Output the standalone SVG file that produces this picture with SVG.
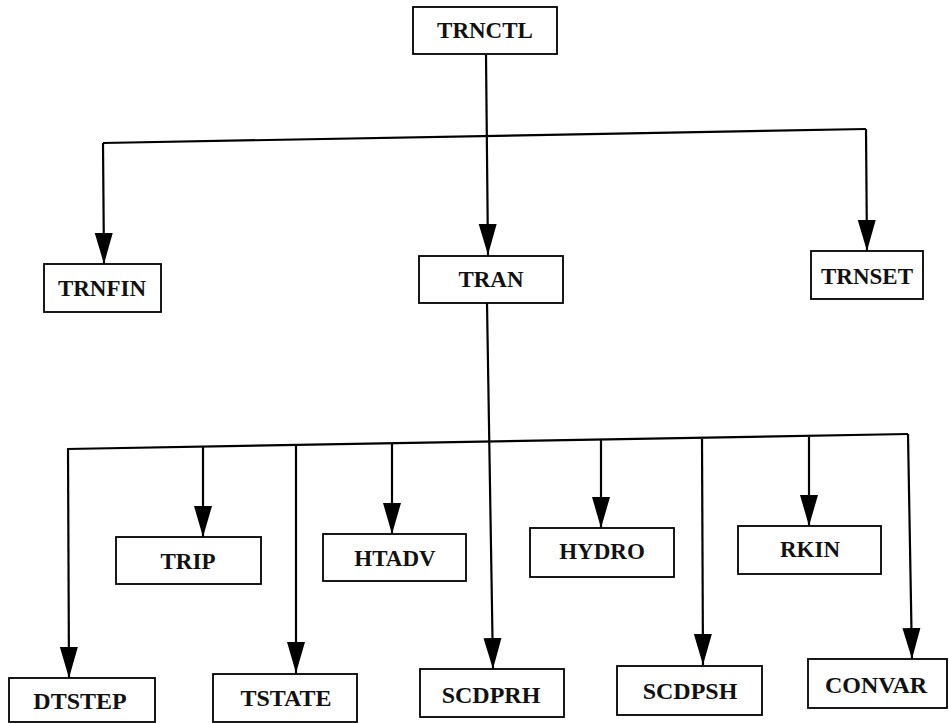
<svg xmlns="http://www.w3.org/2000/svg" width="949" height="723" viewBox="0 0 949 723">
<style>
.box{fill:#fff;stroke:#000;stroke-width:1.8}
.lbl{font-family:"Liberation Serif","Times New Roman",serif;font-weight:bold;font-size:23px;fill:#111;text-anchor:middle}
.big{font-size:24px}
.ln{fill:none;stroke:#000;stroke-width:2.2}
.arr{fill:none;stroke:#000;stroke-width:2.2;marker-end:url(#ah)}
</style>
<defs>
<marker id="ah" markerUnits="userSpaceOnUse" markerWidth="32" markerHeight="20" viewBox="0 0 32 20" refX="31" refY="10" orient="auto">
<path d="M0,1 L31,10 L0,19 Z" fill="#000"/>
</marker>
</defs>
<rect width="949" height="723" fill="#fff"/>
<g id="connectors">
<path class="arr" d="M486,55 L488,255"/>
<path class="ln" d="M103,143 L866,129"/>
<path class="arr" d="M103,143 L104,264"/>
<path class="arr" d="M866,129 L867,251"/>
<path class="arr" d="M487,303 L493,669"/>
<path class="ln" d="M67,449 L908,434"/>
<path class="arr" d="M68,449 L69,678"/>
<path class="arr" d="M203,446 L203,537"/>
<path class="arr" d="M296,445 L296,673"/>
<path class="arr" d="M392,444 L392,534"/>
<path class="arr" d="M601,440 L601,528"/>
<path class="arr" d="M702,439 L703,665"/>
<path class="arr" d="M809,437 L809,526"/>
<path class="arr" d="M908,434 L912,659"/>
</g>
<g id="TRNCTL"><rect class="box" x="413" y="7" width="144" height="47"/><text class="lbl" x="485" y="38">TRNCTL</text></g>
<g id="TRNFIN"><rect class="box" x="44" y="264" width="117" height="48"/><text class="lbl" x="102" y="296">TRNFIN</text></g>
<g id="TRAN"><rect class="box" x="419" y="256" width="144" height="47"/><text class="lbl" x="491" y="287">TRAN</text></g>
<g id="TRNSET"><rect class="box" x="811" y="251" width="112" height="48"/><text class="lbl" x="867" y="284">TRNSET</text></g>
<g id="TRIP"><rect class="box" x="116" y="537" width="145" height="47"/><text class="lbl" x="188" y="569">TRIP</text></g>
<g id="HTADV"><rect class="box" x="323" y="534" width="143" height="47"/><text class="lbl" x="395" y="566">HTADV</text></g>
<g id="HYDRO"><rect class="box" x="530" y="528" width="144" height="49"/><text class="lbl" x="602" y="559">HYDRO</text></g>
<g id="RKIN"><rect class="box" x="738" y="526" width="143" height="48"/><text class="lbl" x="810" y="557">RKIN</text></g>
<g id="DTSTEP"><rect class="box" x="9" y="678" width="146" height="44"/><text class="lbl big" x="80" y="709">DTSTEP</text></g>
<g id="TSTATE"><rect class="box" x="213" y="674" width="144" height="48"/><text class="lbl big" x="286" y="706">TSTATE</text></g>
<g id="SCDPRH"><rect class="box" x="420" y="669" width="144" height="48"/><text class="lbl big" x="491" y="703">SCDPRH</text></g>
<g id="SCDPSH"><rect class="box" x="617" y="666" width="145" height="49"/><text class="lbl big" x="690" y="699">SCDPSH</text></g>
<g id="CONVAR"><rect class="box" x="808" y="659" width="139" height="49"/><text class="lbl big" x="876" y="693">CONVAR</text></g>
</svg>
